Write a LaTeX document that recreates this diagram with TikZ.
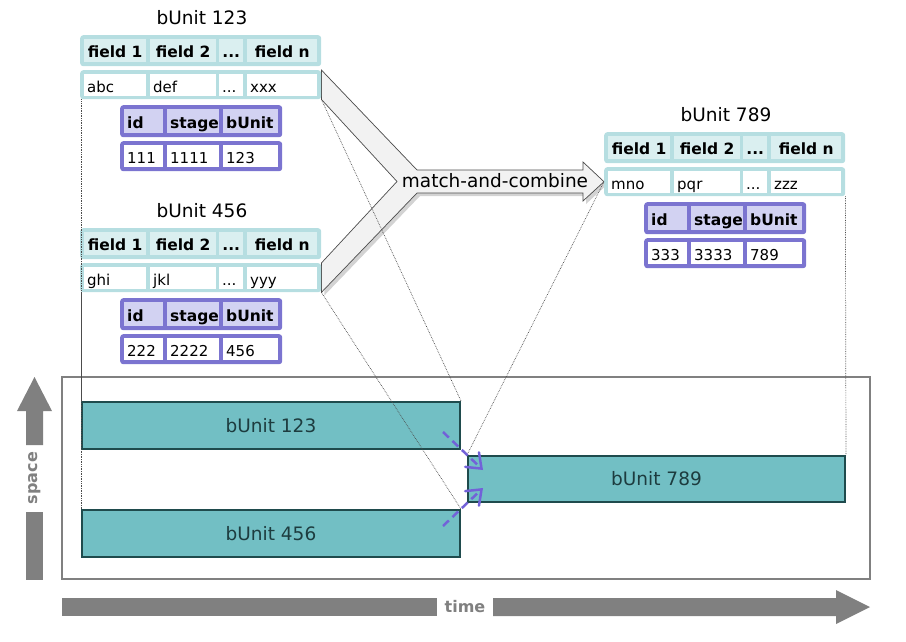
\documentclass[tikz,border=0pt]{standalone}
\usepackage{fontspec}
\setmainfont{DejaVu Sans}
\usetikzlibrary{arrows.meta,shadows,backgrounds}

\definecolor{tealline}{HTML}{B6DEE1}
\definecolor{tealhead}{HTML}{DAEFF0}
\definecolor{purpleline}{HTML}{7B74D0}
\definecolor{purplehead}{HTML}{D2D2F2}
\definecolor{barfill}{HTML}{72BFC4}
\definecolor{barline}{HTML}{1F4B4D}
\definecolor{bartext}{HTML}{1D3C3F}
\definecolor{axisgray}{HTML}{808080}
\definecolor{arrowfill}{HTML}{F2F2F2}
\definecolor{mergeblue}{HTML}{7262D8}

\newcommand{\fnttitle}{\fontsize{18.5}{22}\selectfont}
\newcommand{\fnthead}{\fontsize{15.5}{18}\selectfont\bfseries}
\newcommand{\fntcell}{\fontsize{15}{18}\selectfont}
\newcommand{\fntaxis}{\fontsize{16}{19}\selectfont\bfseries}
\newcommand{\skipped}{...}

\tikzset{
  rowbox/.style={fill=tealline, rounded corners=3pt, inner sep=0pt, anchor=north west},
  keybox/.style={rowbox, fill=purpleline},
  headcell/.style={fill=tealhead, inner sep=0pt, minimum height=23, text height=14.5pt, text depth=0pt, anchor=north west, font=\fnthead},
  datacell/.style={fill=white, inner xsep=3pt, inner ysep=0pt, minimum height=22, text height=14.5pt, text depth=0pt, anchor=north west, align=left, font=\fntcell},
  keycell/.style={datacell, fill=purplehead, minimum height=24, font=\fnthead},
  tabletitle/.style={font=\fnttitle},
  bar/.style={fill=barfill, draw=barline, line width=2pt, text=bartext, font=\fnttitle, inner sep=0pt},
  trace/.style={densely dotted, line width=0.7pt, black!70},
  merge/.style={draw=mergeblue, line width=2.5pt, dash pattern=on 8pt off 5pt, -{Straight Barb[length=13pt,width=20pt,line cap=round]}},
  bigarrow/.style={fill=arrowfill, draw=black!70, line width=0.7pt, drop shadow={shadow xshift=3pt, shadow yshift=-3pt, opacity=0.35}},
  axislabel/.style={text=axisgray, font=\fntaxis, inner sep=0pt}
}

% name, origin, title, three values, id, stage, unit
\newcommand{\recordtable}[9]{%
  \begin{scope}[shift={#2}]
    \node[tabletitle] (#1-title) at (122,-17) {#3};
    \node[rowbox, minimum width=241, minimum height=31] (#1-head) at (0,0) {};
    \foreach \cx/\cw/\ct [count=\n] in {4/62/field 1, 70/66/field 2, 139/24/\skipped, 167/70/field n}
      \node[headcell, minimum width=\cw] (#1-h\n) at (\cx,4) {\ct};
    \node[rowbox, minimum width=241, minimum height=29] (#1-data) at (0,35) {};
    \foreach \cx/\cw/\ct [count=\n, evaluate=\cw as \tw using \cw-6] in {4/62/#4, 70/66/#5, 139/24/\skipped, 167/70/#6}
      \node[datacell, text width=\tw pt] (#1-v\n) at (\cx,39) {\ct};
    \node[keybox, minimum width=162, minimum height=32] (#1-keys) at (40,70) {};
    \foreach \cx/\cw/\ct [count=\n, evaluate=\cw as \tw using \cw-6] in {44/39/id, 87/52/stage, 143/55/bUnit}
      \node[keycell, text width=\tw pt] (#1-k\n) at (\cx,74) {\ct};
    \node[keybox, minimum width=162, minimum height=30] (#1-vals) at (40,106) {};
    \foreach \cx/\cw/\ct [count=\n, evaluate=\cw as \tw using \cw-6] in {44/39/#7, 87/52/#8, 143/55/#9}
      \node[datacell, text width=\tw pt] (#1-w\n) at (\cx,110) {\ct};
  \end{scope}}

\begin{document}
\begin{tikzpicture}[x=1pt, y=-1pt]
\useasboundingbox (0,0) rectangle (906,641);

\recordtable{t123}{(80,35)}{bUnit 123}{abc}{def}{xxx}{111}{1111}{123}
\recordtable{t456}{(80,228)}{bUnit 456}{ghi}{jkl}{yyy}{222}{2222}{456}
\recordtable{t789}{(604,132)}{bUnit 789}{mno}{pqr}{zzz}{333}{3333}{789}

% match-and-combine
\begin{scope}[on background layer]
\draw[bigarrow] (t123-data.north east) -- (417,170) -- (583,170) -- (583,162) -- (t789-data.west)
  -- (583,201) -- (583,193) -- (417,193) -- (t456-data.south east) -- (t456-data.north east)
  -- (397,181.5) -- (t123-data.south east) -- cycle;
\end{scope}
\node[font=\fnttitle, inner sep=0pt] (combine) at (495,181) {match-and-combine};

% space-time plane
\draw[axisgray, line width=2pt] (62,377) rectangle (870,579);
\node[bar, minimum width=378, minimum height=47] (bar123) at (271,425.5) {bUnit 123};
\node[bar, minimum width=378, minimum height=47] (bar456) at (271,533.5) {bUnit 456};
\node[bar, minimum width=377, minimum height=46] (bar789) at (656.5,479) {bUnit 789};

\draw[trace] (bar123.north west |- t123-data.south) -- (bar123.north west);
\draw[trace] (t123-data.south east) -- (bar123.north east);
\draw[trace] (bar456.north west |- t456-data.south) -- (bar456.north west);
\draw[trace] (t456-data.south east) -- (bar456.north east);
\draw[trace] (t789-data.west) -- (bar789.north west);
\draw[trace] (t789-data.south east) -- (bar789.north east);

\coordinate (leave123) at (443,432);
\coordinate (leave456) at (443,526);
\coordinate (enter789a) at (483,470);
\coordinate (enter789b) at (483,488);
\draw[merge] (leave123) -- (enter789a);
\draw[merge] (leave456) -- (enter789b);

% axes
\fill[axisgray] (26,512) rectangle (43,580);
\fill[axisgray] (26,445) -- (26,411) -- (17,411) -- (34.5,377) -- (52,411) -- (43,411) -- (43,445) -- cycle;
\node[axislabel, rotate=90] (spacelabel) at (34.5,478) {space};
\fill[axisgray] (62,598) rectangle (437,616);
\fill[axisgray] (493,598) -- (836,598) -- (836,590) -- (870,607) -- (836,624) -- (836,616) -- (493,616) -- cycle;
\node[axislabel] (timelabel) at (465,607) {time};
\end{tikzpicture}
\end{document}
